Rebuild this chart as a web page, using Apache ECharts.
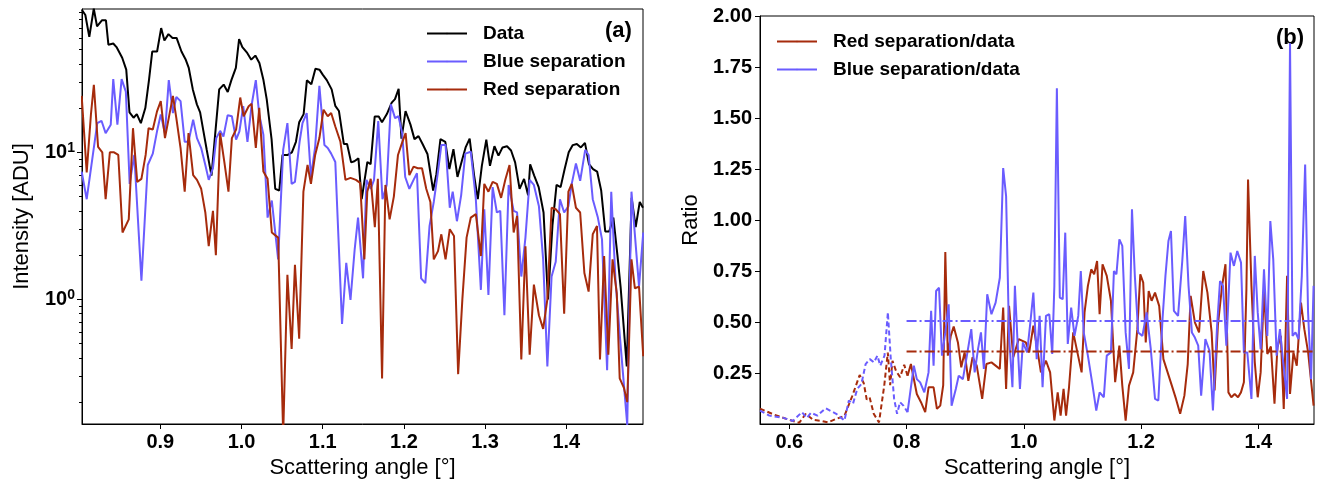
<!DOCTYPE html>
<html>
<head>
  <meta charset="UTF-8">
  <title>Separation vs data</title>
  <style>
    body { margin: 0; background: #fff; }
    #main { width: 1318px; height: 485px; }
  </style>
</head>
<body>
  <div id="main"></div>
  <script src="https://cdn.jsdelivr.net/npm/echarts@6/dist/echarts.min.js"></script>
  <script>
    // panel (a): intensity vs scattering angle
    const dataAngle = [0.8035,0.8076,0.8125,0.818,0.822,0.828,0.833,0.836,0.842,0.846,0.853,0.858,0.862,0.867,0.871,0.876,0.8815,0.886,0.890,0.896,
      0.901,0.905,0.910,0.915,0.920,0.926,0.931,0.935,0.940,0.945,0.949,0.953,0.957,0.963,0.967,0.9725,0.978,0.983,0.9875,0.993,
      0.997,1.001,1.007,1.012,1.017,1.022,1.027,1.031,1.037,1.0415,1.0465,1.0505,1.057,1.062,1.067,1.071,1.0765,1.0805,1.086,1.091,
      1.096,1.100,1.105,1.111,1.1155,1.12,1.126,1.130,1.135,1.139,1.144,1.148,1.155,1.159,1.164,1.169,1.173,1.179,1.185,1.189,
      1.1935,1.197,1.202,1.208,1.213,1.218,1.223,1.229,1.236,1.240,1.245,1.251,1.256,1.261,1.266,1.272,1.276,1.281,1.2865,1.291,
      1.296,1.3015,1.306,1.3115,1.3165,1.3215,1.327,1.332,1.337,1.3425,1.348,1.353,1.3555,1.3605,1.366,1.372,1.3775,1.383,1.388,1.393,
      1.398,1.403,1.408,1.413,1.418,1.423,1.428,1.433,1.438,1.443,1.448,1.453,1.458,1.463,1.467,1.4745,1.4805,1.4855,1.4905,1.4945];
    const dataIntensity = [93,86,61,95,72,79,79,54,55,52,44,36.5,18.7,17.2,18.2,15.8,20,31,48.5,48.5,
      70,57.7,63.7,60,60,48.5,43,37.5,26.8,21.2,18.7,14,10.5,6.95,12.3,26.8,28.9,25.7,31,37.5,
      59,52,47.4,42.7,45.5,40.5,31,23,12.3,5.65,5.5,9.6,9.6,10,11.8,16,18.2,30.9,29,37,
      36.5,33.8,31,26.8,20.7,19.1,11.4,11.4,8.55,8.7,9.1,4.8,8.6,8.3,17.5,17.5,16,18.2,21.8,23,
      27,12.4,19.1,15.5,12.3,12.9,11.4,9.75,5.5,7.1,12.3,11.8,7.7,10.5,6.8,9,10.8,12.4,6.95,4.8,
      8.1,12.2,8.1,11,9.5,10.8,11,10.3,8.55,5.65,6.6,5.1,8.3,6.95,5.8,3.9,1.0,3.2,6.0,5.8,
      7.7,10.0,11.2,11.4,10.8,11.6,8.3,7.7,7.4,5.5,2.9,2.9,3.6,2.0,1.2,0.35,4.9,3.1,4.6,4.2];

    const blueAngle = [0.8031,0.8093,0.8223,0.8275,0.8326,0.8389,0.842,0.8471,0.8523,0.8575,0.8622,0.8679,0.8767,0.8845,0.8907,0.8959,0.9005,0.9057,0.9104,0.9155,
      0.9197,0.9249,0.93,0.9347,0.9404,0.9451,0.9503,0.9554,0.9596,0.9648,0.9689,0.9736,0.9777,0.9829,0.9881,0.9933,0.9974,1.0021,1.0073,1.0124,
      1.0176,1.0218,1.0269,1.0321,1.0373,1.0451,1.0513,1.0565,1.0617,1.0658,1.0715,1.0751,1.0803,1.0855,1.0907,1.0959,1.1021,1.1062,1.1104,1.1155,
      1.1238,1.129,1.1342,1.1394,1.1435,1.1497,1.1539,1.1591,1.1632,1.1684,1.1736,1.1788,1.1839,1.1891,1.1933,1.1979,1.2016,1.2067,1.2119,1.2161,
      1.2212,1.2264,1.2316,1.2368,1.242,1.2461,1.2513,1.2565,1.2601,1.2653,1.2705,1.2756,1.2824,1.2886,1.2948,1.299,1.3041,1.3093,1.3145,1.3187,
      1.3238,1.329,1.3352,1.3394,1.3446,1.3497,1.3549,1.3601,1.3663,1.3715,1.3767,1.3819,1.387,1.3922,1.3974,1.4026,1.4067,1.4119,1.4171,1.4233,
      1.4275,1.4326,1.4389,1.444,1.4503,1.4554,1.4606,1.4658,1.4751,1.4803,1.4896,1.4948];
    const blueIntensity = [7.4,4.8,15.8,16.4,13.5,15.4,31.5,15.4,31.5,25.9,6.1,9.6,1.34,8.2,9.8,13.9,18.1,13.5,31,18.5,
      23.8,22.3,11.8,11.8,16.7,12.5,10.7,8.2,6.5,7.8,12.5,14,12.8,17.9,17.6,12.2,13.9,20.6,11.8,20.9,
      31,18.1,13.2,3.6,4.7,1.87,10.4,15.8,6.1,6.3,11.8,15.8,18.5,6.8,10.9,28.3,11.2,10.7,9.8,8.6,
      0.68,1.77,0.99,2.2,3.6,1.39,6.5,5.65,6.5,16.3,4.8,6,21.2,17.1,17.6,13.5,6.8,5.65,6.5,7.2,
      1.39,1.29,3.16,4.6,7.4,11.2,11.2,4.2,5.4,3.4,5.1,9.8,10.1,4.8,1.16,4.1,1.07,5.8,3.9,4,
      0.78,6,4,3.9,1.43,2.63,6.5,6,4.3,1.87,0.35,1.43,1.8,4.8,3.9,4.3,6.1,8.4,6.4,10.4,
      9.6,4.8,3.6,2.56,0.33,5.4,1.36,0.58,0.14,5.4,1.22,2.85];

    const redAngle = [0.8031,0.8093,0.8145,0.8181,0.8233,0.8285,0.8326,0.8378,0.843,0.8482,0.8534,0.8611,0.8663,0.8715,0.8767,0.8819,0.8855,0.8907,0.8959,0.9005,
      0.9057,0.9155,0.9197,0.9249,0.93,0.9347,0.9404,0.9451,0.9503,0.9554,0.9596,0.9648,0.9684,0.9736,0.9788,0.9839,0.9881,0.9933,0.9984,1.0026,
      1.0088,1.0124,1.0176,1.0218,1.0269,1.0321,1.0373,1.0451,1.0513,1.0565,1.0617,1.0658,1.071,1.0762,1.0813,1.0855,1.0907,1.0959,1.101,1.1062,
      1.1104,1.1155,1.1218,1.128,1.1342,1.1409,1.1461,1.1513,1.1549,1.1591,1.1642,1.1679,1.1731,1.1772,1.1824,1.1876,1.1927,1.1979,1.2021,1.2067,
      1.2119,1.2171,1.2223,1.2275,1.2326,1.2368,1.242,1.2461,1.2513,1.2565,1.2617,1.2668,1.272,1.2772,1.2824,1.2886,1.2948,1.299,1.3041,1.3093,
      1.3145,1.3197,1.3249,1.3301,1.3352,1.3394,1.3446,1.3497,1.3549,1.3601,1.3663,1.3715,1.3767,1.3819,1.387,1.3922,1.3974,1.4026,1.4067,1.4119,
      1.4171,1.4223,1.4275,1.4326,1.4378,1.4415,1.4466,1.4518,1.457,1.4622,1.4658,1.471,1.4751,1.4803,1.4845,1.4896,1.4948];
    const redIntensity = [24.2,7.3,18.1,28.8,10.9,10,4.8,10,10,9.6,2.85,3.5,14.6,6.3,6.6,9.6,14.6,14.3,19,22.3,
      12.5,24.2,17.1,10.7,5.4,13.5,7,6.5,5.65,3.9,2.3,4,2.0,13.5,8.6,5.4,12.5,14.3,23.6,17.6,
      20.6,21.4,10.7,20.1,7.4,6.6,2.85,2.63,0.12,1.47,0.46,1.72,0.54,5.4,8.2,6.1,9.6,12.5,19.5,17.6,
      18.5,15,11.8,6.5,6.7,6.5,6.2,1.87,5.4,6.6,3.1,6.6,0.29,6,3.5,5,9.6,11.7,13.5,7,
      8,7.8,7.8,5.65,4.6,1.87,2.13,2.77,1.87,3.0,2.7,0.31,1.0,2.63,3.6,3.8,1.97,6.1,5.4,6.3,
      6.1,4.9,6.5,8.2,2.85,3.7,0.39,2.3,0.42,1.26,0.78,0.63,1.0,4.2,4.1,3.8,0.8,5.4,6.1,4.2,
      3.9,1.51,1.13,2.77,3.16,0.39,1.97,0.42,1.87,1.1,0.29,0.25,0.2,1.87,1.19,1.22,0.41];

    // panel (b): ratios, dashed below 0.8
    const redRatioAngle = [0.55,0.575,0.6,0.617,0.628,0.641,0.655,0.666,0.68,0.694,0.707,0.72,0.727,0.732,0.737,0.744,0.753,0.762,0.768,0.772,
      0.776,0.782,0.789,0.796,0.8017,0.8074,0.8175,0.8246,0.8318,0.8375,0.8461,0.8518,0.8575,0.8625,0.8661,0.8704,0.8754,0.8804,0.8876,0.8933,
      0.899,0.9054,0.9126,0.9197,0.929,0.9362,0.9448,0.9519,0.959,0.9648,0.9698,0.9748,0.982,0.9913,1.0034,1.0092,1.0163,1.022,1.0292,1.0378,
      1.0449,1.0521,1.0578,1.0628,1.0678,1.0721,1.0771,1.0843,1.0914,1.0986,1.1036,1.1093,1.115,1.12,1.125,1.1293,1.1343,1.1415,1.1486,1.1558,
      1.163,1.168,1.1737,1.1794,1.1866,1.1937,1.1987,1.2037,1.208,1.213,1.218,1.2238,1.2309,1.2381,1.2453,1.2525,1.2596,1.2667,1.2739,1.2796,
      1.2846,1.2918,1.2989,1.3061,1.3132,1.3204,1.3254,1.331,1.3382,1.344,1.349,1.354,1.3597,1.3654,1.3704,1.3754,1.3797,1.3825,1.3883,1.394,
      1.399,1.404,1.4097,1.4154,1.4215,1.4276,1.4326,1.4384,1.4434,1.4491,1.4541,1.4599,1.4656,1.4728,1.4785,1.485,1.4943];
    const redRatio = [0.075,0.045,0.02,0.006,0.05,0.02,0.015,0.008,0.025,0.04,0.134,0.24,0.2,0.12,0.13,0.05,0.008,0.19,0.35,0.19,
      0.31,0.26,0.23,0.29,0.237,0.294,0.147,0.107,0.058,0.18,0.18,0.074,0.09,0.19,0.843,0.335,0.432,0.478,0.40,0.278,
      0.351,0.212,0.327,0.286,0.123,0.294,0.302,0.286,0.27,0.571,0.172,0.579,0.327,0.416,0.40,0.351,0.482,0.384,0.253,0.31,
      0.253,0.017,0.155,0.041,0.172,0.041,0.18,0.449,0.351,0.253,0.547,0.677,0.758,0.734,0.799,0.538,0.783,0.726,0.604,0.205,
      0.384,0.188,0.017,0.188,0.253,0.465,0.734,0.693,0.40,0.652,0.604,0.644,0.579,0.318,0.253,0.188,0.123,0.05,0.139,0.294,
      0.628,0.498,0.449,0.75,0.644,0.449,0.164,0.482,0.677,0.783,0.155,0.131,0.147,0.131,0.155,0.205,0.66,1.198,0.677,0.302,
      0.131,0.253,0.66,0.343,0.38,0.099,0.376,0.432,0.074,0.726,0.147,0.351,0.286,0.595,0.465,0.351,0.09];

    const blueRatioAngle = [0.55,0.566,0.59,0.606,0.6215,0.63,0.637,0.648,0.662,0.68,0.694,0.7016,0.7087,0.7159,0.723,0.7302,0.7373,0.7445,0.7502,0.7552,
      0.7624,0.7681,0.7731,0.7788,0.7838,0.7889,0.7946,0.8017,0.8074,0.8124,0.8175,0.8232,0.8303,0.8375,0.8419,0.8461,0.8504,0.8554,0.8604,0.8661,
      0.8718,0.8768,0.884,0.889,0.8961,0.9019,0.9104,0.9162,0.9219,0.9269,0.9319,0.9376,0.9448,0.9519,0.9591,0.9648,0.9698,0.9748,0.9806,0.9848,
      0.9891,0.9934,0.9984,1.0056,1.0106,1.0163,1.022,1.027,1.032,1.0378,1.0435,1.0485,1.0521,1.0564,1.0614,1.0664,1.0707,1.075,1.0808,1.0865,
      1.0929,1.0972,1.1022,1.1093,1.1165,1.1236,1.1293,1.1365,1.1415,1.1486,1.1537,1.158,1.163,1.168,1.1737,1.1794,1.1845,1.1894,1.1951,1.2023,
      1.2095,1.2166,1.2238,1.2295,1.2366,1.2416,1.2467,1.251,1.256,1.2631,1.2703,1.2753,1.281,1.2867,1.2918,1.2975,1.3025,1.3097,1.3168,1.3226,
      1.3297,1.3347,1.3398,1.3455,1.3526,1.3584,1.3641,1.3705,1.3754,1.3812,1.3883,1.394,1.399,1.404,1.4097,1.4154,1.4205,1.4255,1.4312,1.4369,
      1.4419,1.4491,1.4541,1.4584,1.4634,1.4685,1.4742,1.4799,1.4849,1.49,1.4943];
    const blueRatio = [0.066,0.041,0.03,0.015,0.058,0.03,0.055,0.041,0.077,0.05,0.017,0.115,0.1,0.172,0.196,0.294,0.318,0.302,0.335,0.286,
      0.335,0.547,0.318,0.123,0.05,0.107,0.09,0.058,0.18,0.286,0.22,0.204,0.155,0.253,0.555,0.286,0.652,0.668,0.335,0.449,
      0.587,0.09,0.172,0.237,0.22,0.318,0.465,0.253,0.367,0.449,0.27,0.636,0.538,0.595,0.717,1.255,1.117,0.432,0.18,0.677,
      0.416,0.172,0.40,0.351,0.482,0.644,0.318,0.53,0.18,0.53,0.538,0.343,0.677,1.646,0.62,0.612,0.938,0.392,0.571,0.432,
      0.53,0.75,0.449,0.335,0.204,0.066,0.155,0.131,0.335,0.351,0.75,0.734,0.905,0.873,0.449,0.27,1.052,0.726,0.449,0.432,
      0.547,0.367,0.123,0.115,0.514,0.726,0.897,0.946,0.555,0.53,0.799,1.019,0.677,0.449,0.424,0.384,0.139,0.416,0.359,0.066,
      0.482,0.701,0.677,0.384,0.84,0.775,0.848,0.791,0.351,0.351,0.123,0.824,0.547,0.367,0.758,0.432,0.995,0.807,0.335,0.465,
      0.318,0.123,1.866,0.432,0.449,0.416,0.726,1.272,0.547,0.22,0.677];

    const meanStart = 0.8, meanEnd = 1.495;
    const redMean = 0.356, blueMean = 0.505;

    const angleTicksA = [0.9, 1.0, 1.1, 1.2, 1.3, 1.4];
    const angleTicksB = [0.6, 0.8, 1.0, 1.2, 1.4];
    const ratioTicks = [0.25, 0.5, 0.75, 1.0, 1.25, 1.5, 1.75, 2.0];
    const logMajor = [1, 10];
    const logMinor = [0.2, 0.3, 0.4, 0.5, 0.6, 0.7, 0.8, 0.9, 2, 3, 4, 5, 6, 7, 8, 9, 20, 30, 40, 50, 60, 70, 80, 90];

    const BLACK = '#000000', BLUE = '#6a5cff', RED = '#a62b0c';
    const FONT = 'Liberation Sans, Arial, sans-serif';

    const zip = (xs, ys) => xs.map((x, i) => [x, ys[i]]);
    // split a ratio curve at 0.8: dashed part keeps the first solid point so they join
    function splitAt(xs, ys, cut) {
      const pts = zip(xs, ys);
      const k = pts.findIndex(p => p[0] >= cut);
      return { dashed: pts.slice(0, k + 1), solid: pts.slice(k) };
    }
    const redParts = splitAt(redRatioAngle, redRatio, meanStart);
    const blueParts = splitAt(blueRatioAngle, blueRatio, meanStart);

    const tickLabel = { color: BLACK, fontFamily: FONT, fontSize: 20, fontWeight: 'bold' };
    const titleText = { color: BLACK, fontFamily: FONT, fontSize: 22 };
    const axisLine = { show: true, lineStyle: { color: BLACK, width: 1 } };
    const tick = (vals, len) => ({ show: true, customValues: vals, length: len, lineStyle: { color: BLACK, width: 1 } });

    function line(name, data, color, xi, yi, type) {
      return {
        name, type: 'line', data, xAxisIndex: xi, yAxisIndex: yi,
        symbol: 'none', showSymbol: false, animation: false,
        lineStyle: { color, width: 2, type: type || 'solid' },
        itemStyle: { color }
      };
    }

    const legendBase = {
      orient: 'vertical', padding: 0, itemGap: 9,
      itemWidth: 40, itemHeight: 2,
      textStyle: { color: BLACK, fontFamily: FONT, fontSize: 19, fontWeight: 'bold', lineHeight: 19, padding: [0, 0, 0, 11] }
    };

    const chart = echarts.init(document.getElementById('main'));
    chart.setOption({
      backgroundColor: '#fff',
      animation: false,
      grid: [
        { left: 82, top: 9, width: 561, height: 415, show: true, borderColor: BLACK, borderWidth: 1 },
        { left: 760, top: 16, width: 554, height: 408, show: true, borderColor: BLACK, borderWidth: 1 }
      ],
      xAxis: [
        {
          type: 'value', gridIndex: 0, min: 0.8035, max: 1.4945,
          axisLine, splitLine: { show: false },
          axisTick: tick(angleTicksA, 5),
          axisLabel: Object.assign({ customValues: angleTicksA, margin: 8, formatter: v => v.toFixed(1) }, tickLabel),
          name: 'Scattering angle [°]', nameLocation: 'middle', nameGap: 31, nameTextStyle: titleText
        },
        {
          type: 'value', gridIndex: 1, min: 0.55, max: 1.495,
          axisLine, splitLine: { show: false },
          axisTick: tick(angleTicksB, 5),
          axisLabel: Object.assign({ customValues: angleTicksB, margin: 8, formatter: v => v.toFixed(1) }, tickLabel),
          name: 'Scattering angle [°]', nameLocation: 'middle', nameGap: 31, nameTextStyle: titleText
        }
      ],
      yAxis: [
        {
          type: 'log', logBase: 10, gridIndex: 0, min: 0.142, max: 94.4, position: 'left',
          axisLine, splitLine: { show: false },
          axisTick: tick(logMajor, 5),
          axisLabel: {
            customValues: logMajor, margin: 7,
            formatter: v => '{b|10}{s|' + Math.round(Math.log10(v)) + '}',
            rich: {
              b: { color: BLACK, fontFamily: FONT, fontSize: 20, fontWeight: 'bold' },
              s: { color: BLACK, fontFamily: FONT, fontSize: 14, fontWeight: 'bold', verticalAlign: 'top', padding: [0, 0, 9, 0] }
            }
          },
          name: 'Intensity [ADU]', nameLocation: 'middle', nameGap: 49, nameTextStyle: titleText
        },
        {
          type: 'log', logBase: 10, gridIndex: 0, min: 0.142, max: 94.4, position: 'left',
          axisLine: { show: false }, splitLine: { show: false },
          axisTick: tick(logMinor, 3),
          axisLabel: { show: false }
        },
        {
          type: 'value', gridIndex: 1, min: 0, max: 2, position: 'left',
          axisLine, splitLine: { show: false },
          axisTick: tick(ratioTicks, 5),
          axisLabel: Object.assign({ customValues: ratioTicks, margin: 8, formatter: v => v.toFixed(2) }, tickLabel),
          name: 'Ratio', nameLocation: 'middle', nameGap: 58, nameTextStyle: titleText
        }
      ],
      legend: [
        Object.assign({ left: 426, top: 24, data: ['Data', 'Blue separation', 'Red separation'] }, legendBase),
        Object.assign({ left: 776, top: 32, data: ['Red separation/data', 'Blue separation/data'] }, legendBase)
      ],
      graphic: [
        { type: 'text', left: 605, top: 20, style: { text: '(a)', fill: BLACK, font: 'bold 22px ' + FONT } },
        { type: 'text', left: 1276, top: 27, style: { text: '(b)', fill: BLACK, font: 'bold 22px ' + FONT } }
      ],
      series: [
        line('Data', zip(dataAngle, dataIntensity), BLACK, 0, 0),
        line('Blue separation', zip(blueAngle, blueIntensity), BLUE, 0, 0),
        line('Red separation', zip(redAngle, redIntensity), RED, 0, 0),
        line('Red separation/data', redParts.solid, RED, 1, 2),
        line('red dashed', redParts.dashed, RED, 1, 2, [5, 3]),
        line('Blue separation/data', blueParts.solid, BLUE, 1, 2),
        line('blue dashed', blueParts.dashed, BLUE, 1, 2, [5, 3]),
        line('red mean', [[meanStart, redMean], [meanEnd, redMean]], RED, 1, 2, [10, 3, 2, 3]),
        line('blue mean', [[meanStart, blueMean], [meanEnd, blueMean]], BLUE, 1, 2, [10, 3, 2, 3])
      ]
    });
  </script>
</body>
</html>
